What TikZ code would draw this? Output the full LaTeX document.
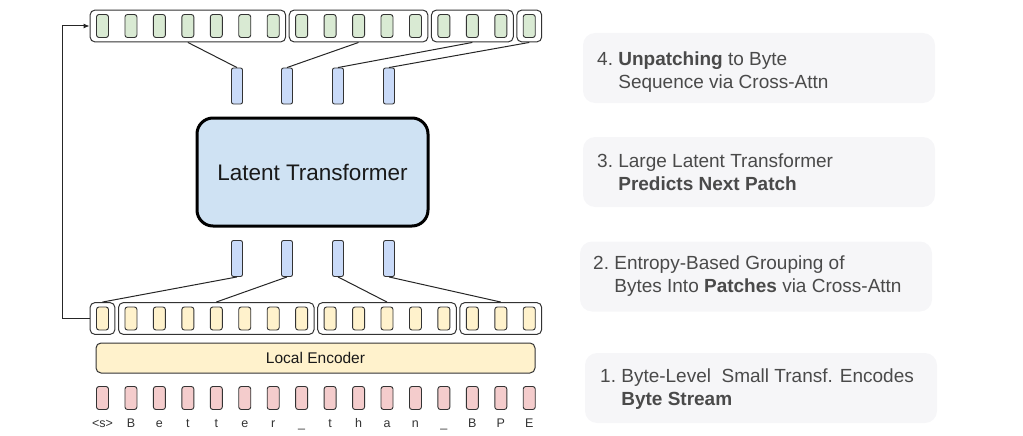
\documentclass[tikz,border=0pt]{standalone}
\usepackage{fontspec}
\setmainfont{Liberation Sans}
\usetikzlibrary{fit,arrows.meta,calc}
\definecolor{cgreen}{HTML}{D9EAD3}
\definecolor{cyellow}{HTML}{FFF2CC}
\definecolor{cpink}{HTML}{F4CCCC}
\definecolor{cblue}{HTML}{C9DAF8}
\definecolor{clatent}{HTML}{CFE2F3}
\definecolor{cpanel}{HTML}{F6F6F8}
\definecolor{cline}{HTML}{333333}
\definecolor{ctext}{HTML}{4A4A4A}
\newcommand{\numsp}{\kern5.3pt}
\begin{document}
\begin{tikzpicture}[x=1pt,y=-1pt,
  cellbox/.style={draw=cline,line width=.9pt,rounded corners=2.5pt,minimum width=12pt,minimum height=23pt,inner sep=0pt},
  gcell/.style={cellbox,fill=cgreen},
  ycell/.style={cellbox,fill=cyellow},
  pcell/.style={cellbox,fill=cpink},
  bcell/.style={draw=cline,line width=.9pt,rounded corners=2pt,minimum width=11pt,minimum height=36pt,inner sep=0pt,fill=cblue},
  grp/.style={draw=cline,line width=1pt,rounded corners=5pt,inner xsep=6pt,inner ysep=4pt},
  conn/.style={draw=black!85,line width=1pt},
  bytelab/.style={anchor=base,inner sep=0pt,font=\fontsize{12.5}{14}\selectfont,text=cline},
  panel/.style={fill=cpanel,rounded corners=12pt,minimum width=352pt,minimum height=70pt,inner sep=0pt},
  paneltext/.style={anchor=west,inner sep=0pt,text=ctext,font=\fontsize{19}{23}\selectfont}
]
\useasboundingbox (0,0) rectangle (1023,436);

% top green cells
\foreach \i in {0,...,15} \node[gcell] (t\i) at ({102.5+28.45*\i},26) {};
\node[grp,fit=(t0)(t6)] (T1) {};
\node[grp,fit=(t7)(t11)] (T2) {};
\node[grp,fit=(t12)(t14)] (T3) {};
\node[grp,fit=(t15)] (T4) {};

% bottom yellow cells
\foreach \i in {0,...,15} \node[ycell] (b\i) at ({102.5+28.45*\i},318.5) {};
\node[grp,fit=(b0)] (B1) {};
\node[grp,fit=(b1)(b7)] (B2) {};
\node[grp,fit=(b8)(b12)] (B3) {};
\node[grp,fit=(b13)(b15)] (B4) {};

% pink byte cells and labels
\foreach \i/\l in {0/{<s>},1/B,2/e,3/t,4/t,5/e,6/r,7/\_,8/t,9/h,10/a,11/n,12/\_,13/B,14/P,15/E} {
  \node[pcell] (p\i) at ({102.5+28.45*\i},398) {};
  \node[bytelab] (l\i) at ({102.5+28.45*\i},427.5) {\l};
}

% local encoder
\node[draw=cline,line width=1pt,rounded corners=5pt,fill=cyellow,minimum width=439pt,minimum height=30pt,inner sep=0pt,font=\fontsize{15.5}{18}\selectfont,text=black!90] (enc) at (315.5,358) {Local Encoder};

% blue patch cells
\foreach \x [count=\k] in {237,287,338,389} {
  \node[bcell] (u\k) at (\x,86) {};
  \node[bcell] (d\k) at (\x,258.5) {};
}

% latent transformer
\node[draw=black,line width=3pt,rounded corners=16pt,fill=clatent,minimum width=231pt,minimum height=108pt,inner sep=0pt,font=\fontsize{22.5}{26}\selectfont,text=black!90] (lat) at (312.5,172) {Latent Transformer};

% connectors top
\draw[conn] (t3 |- T1.south) -- (u1.north);
\draw[conn] (t9 |- T2.south) -- (u2.north);
\draw[conn] (t13 |- T3.south) -- (u3.north);
\draw[conn] (t15 |- T4.south) -- (u4.north);
% connectors bottom
\draw[conn] (d1.south) -- (b0 |- B1.north);
\draw[conn] (d2.south) -- (b4 |- B2.north);
\draw[conn] (d3.south) -- (b10 |- B3.north);
\draw[conn] (d4.south) -- (b14 |- B4.north);

% feedback arrow
\coordinate (fb) at (62,318.5);
\draw[conn,-{Latex[length=6pt,width=5pt]}] (B1.west) -- (fb) |- (T1.west);

% right panels
\node[panel] (r4) at (759,68) {};
\node[paneltext] (s4) at (597,72) {\begin{tabular}{@{}l@{}l@{}}4.\numsp & \textbf{Unpatching} to Byte\\ & Sequence via Cross-Attn\end{tabular}};
\node[panel] (r3) at (759,172) {};
\node[paneltext] (s3) at (597,174.5) {\begin{tabular}{@{}l@{}l@{}}3.\numsp & Large Latent Transformer\\ & \textbf{Predicts Next Patch}\end{tabular}};
\node[panel] (r2) at (756,276.5) {};
\node[paneltext] (s2) at (593,276.5) {\begin{tabular}{@{}l@{}l@{}}2.\numsp & Entropy-Based Grouping of\\ & Bytes Into \textbf{Patches} via Cross-Attn\end{tabular}};
\node[panel] (r1) at (761,388) {};
\node[paneltext] (s1) at (600,389.5) {\begin{tabular}{@{}l@{}l@{}}1.\numsp & Byte-Level\ \ Small Transf. Encodes\\ & \textbf{Byte Stream}\end{tabular}};
\end{tikzpicture}
\end{document}
